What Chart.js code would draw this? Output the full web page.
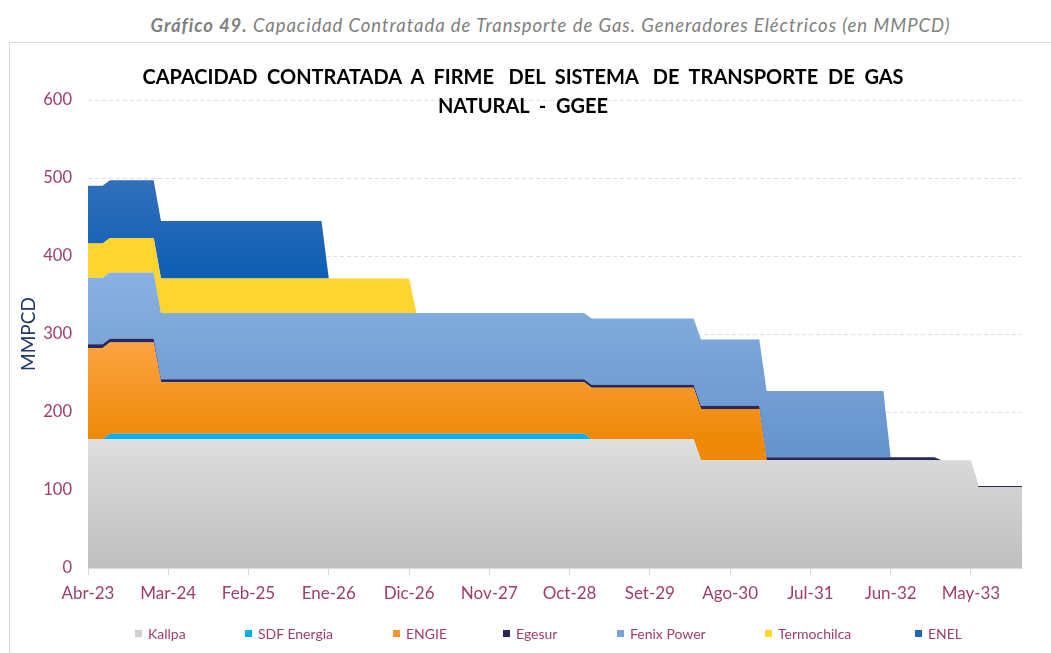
<!DOCTYPE html>
<html lang="es">
<head>
<meta charset="utf-8">
<title>Capacidad contratada a firme - GGEE</title>
<script src="https://cdn.jsdelivr.net/npm/chart.js@4.4.1/dist/chart.umd.min.js"></script>
<style>
  html, body { margin: 0; padding: 0; background: #fff; }
  #wrap { position: relative; width: 1051px; height: 653px; overflow: hidden; font-family: Lato, "Open Sans", sans-serif; }
  #caption { position: absolute; left: 0; top: 14px; width: 1101px; text-align: center; font-size: 18.5px; letter-spacing: 0.95px; font-style: italic; color: #808080; }
  #caption b { font-weight: 700; }
  #frame { position: absolute; left: 9px; top: 42px; width: 1100px; height: 700px; border: 1px solid #d9d9d9; box-sizing: border-box; }
  #chartTitle { position: absolute; left: 0; top: 62px; width: 1046px; text-align: center; font-size: 20px; font-weight: 700; line-height: 29px; color: #000; white-space: pre; }
  #plot { position: absolute; left: 0; top: 0; }
  #legend { position: absolute; left: 135px; top: 625px; display: flex; font-size: 14px; color: #9e3d6d; }
  #legend .item { display: flex; align-items: center; white-space: nowrap; }
  #legend .box { width: 7px; height: 7px; margin-right: 6px; }
</style>
</head>
<body>
<div id="wrap">
  <div id="frame"></div>
  <div id="caption"><b>Gráfico 49.</b> Capacidad Contratada de Transporte de Gas. Generadores Eléctricos (en MMPCD)</div>
  <canvas id="plot" width="1051" height="653"></canvas>
  <div id="chartTitle">CAPACIDAD  CONTRATADA  A  FIRME   DEL  SISTEMA   DE  TRANSPORTE  DE  GAS
NATURAL  -  GGEE</div>
  <div id="legend"></div>
</div>
<script>
// monthly axis, Abr-23 .. Dic-33
const monthNames = ['Ene', 'Feb', 'Mar', 'Abr', 'May', 'Jun', 'Jul', 'Ago', 'Set', 'Oct', 'Nov', 'Dic'];
const months = [];
for (let i = 0; i < 129; i++) {
  const m = (3 + i) % 12;
  const yy = 23 + Math.floor((3 + i) / 12);
  months.push(monthNames[m] + '-' + yy);
}

// capacity per company, MMPCD (one row = 12 months)
const kallpa = [
  165, 165, 165, 165, 165, 165, 165, 165, 165, 165, 165, 165,
  165, 165, 165, 165, 165, 165, 165, 165, 165, 165, 165, 165,
  165, 165, 165, 165, 165, 165, 165, 165, 165, 165, 165, 165,
  165, 165, 165, 165, 165, 165, 165, 165, 165, 165, 165, 165,
  165, 165, 165, 165, 165, 165, 165, 165, 165, 165, 165, 165,
  165, 165, 165, 165, 165, 165, 165, 165, 165, 165, 165, 165,
  165, 165, 165, 165, 165, 165, 165, 165, 165, 165, 165, 165,
  138, 138, 138, 138, 138, 138, 138, 138, 138, 138, 138, 138,
  138, 138, 138, 138, 138, 138, 138, 138, 138, 138, 138, 138,
  138, 138, 138, 138, 138, 138, 138, 138, 138, 138, 138, 138,
  138, 138, 104, 104, 104, 104, 104, 104, 104
];
const sdfEnergia = [
  0, 0, 0, 7, 7, 7, 7, 7, 7, 7, 7, 7,
  7, 7, 7, 7, 7, 7, 7, 7, 7, 7, 7, 7,
  7, 7, 7, 7, 7, 7, 7, 7, 7, 7, 7, 7,
  7, 7, 7, 7, 7, 7, 7, 7, 7, 7, 7, 7,
  7, 7, 7, 7, 7, 7, 7, 7, 7, 7, 7, 7,
  7, 7, 7, 7, 7, 7, 7, 7, 7, 0, 0, 0,
  0, 0, 0, 0, 0, 0, 0, 0, 0, 0, 0, 0,
  0, 0, 0, 0, 0, 0, 0, 0, 0, 0, 0, 0,
  0, 0, 0, 0, 0, 0, 0, 0, 0, 0, 0, 0,
  0, 0, 0, 0, 0, 0, 0, 0, 0, 0, 0, 0,
  0, 0, 0, 0, 0, 0, 0, 0, 0
];
const engie = [
  117, 117, 117, 117, 117, 117, 117, 117, 117, 117, 66, 66,
  66, 66, 66, 66, 66, 66, 66, 66, 66, 66, 66, 66,
  66, 66, 66, 66, 66, 66, 66, 66, 66, 66, 66, 66,
  66, 66, 66, 66, 66, 66, 66, 66, 66, 66, 66, 66,
  66, 66, 66, 66, 66, 66, 66, 66, 66, 66, 66, 66,
  66, 66, 66, 66, 66, 66, 66, 66, 66, 66, 66, 66,
  66, 66, 66, 66, 66, 66, 66, 66, 66, 66, 66, 66,
  66, 66, 66, 66, 66, 66, 66, 66, 66, 0, 0, 0,
  0, 0, 0, 0, 0, 0, 0, 0, 0, 0, 0, 0,
  0, 0, 0, 0, 0, 0, 0, 0, 0, 0, 0, 0,
  0, 0, 0, 0, 0, 0, 0, 0, 0
];
const egesur = [
  5, 5, 5, 5, 5, 5, 5, 5, 5, 5, 4, 4,
  4, 4, 4, 4, 4, 4, 4, 4, 4, 4, 4, 4,
  4, 4, 4, 4, 4, 4, 4, 4, 4, 4, 4, 4,
  4, 4, 4, 4, 4, 4, 4, 4, 4, 4, 4, 4,
  4, 4, 4, 4, 4, 4, 4, 4, 4, 4, 4, 4,
  4, 4, 4, 4, 4, 4, 4, 4, 4, 4, 4, 4,
  4, 4, 4, 4, 4, 4, 4, 4, 4, 4, 4, 4,
  4, 4, 4, 4, 4, 4, 4, 4, 4, 4, 4, 4,
  4, 4, 4, 4, 4, 4, 4, 4, 4, 4, 4, 4,
  4, 4, 4, 4, 4, 4, 4, 4, 4, 0, 0, 0,
  0, 0, 1, 1, 1, 1, 1, 1, 1
];
const fenixPower = [
  85, 85, 85, 85, 85, 85, 85, 85, 85, 85, 85, 85,
  85, 85, 85, 85, 85, 85, 85, 85, 85, 85, 85, 85,
  85, 85, 85, 85, 85, 85, 85, 85, 85, 85, 85, 85,
  85, 85, 85, 85, 85, 85, 85, 85, 85, 85, 85, 85,
  85, 85, 85, 85, 85, 85, 85, 85, 85, 85, 85, 85,
  85, 85, 85, 85, 85, 85, 85, 85, 85, 85, 85, 85,
  85, 85, 85, 85, 85, 85, 85, 85, 85, 85, 85, 85,
  85, 85, 85, 85, 85, 85, 85, 85, 85, 85, 85, 85,
  85, 85, 85, 85, 85, 85, 85, 85, 85, 85, 85, 85,
  85, 85, 0, 0, 0, 0, 0, 0, 0, 0, 0, 0,
  0, 0, 0, 0, 0, 0, 0, 0, 0
];
const termochilca = [
  44, 44, 44, 44, 44, 44, 44, 44, 44, 44, 44, 44,
  44, 44, 44, 44, 44, 44, 44, 44, 44, 44, 44, 44,
  44, 44, 44, 44, 44, 44, 44, 44, 44, 44, 44, 44,
  44, 44, 44, 44, 44, 44, 44, 44, 44, 0, 0, 0,
  0, 0, 0, 0, 0, 0, 0, 0, 0, 0, 0, 0,
  0, 0, 0, 0, 0, 0, 0, 0, 0, 0, 0, 0,
  0, 0, 0, 0, 0, 0, 0, 0, 0, 0, 0, 0,
  0, 0, 0, 0, 0, 0, 0, 0, 0, 0, 0, 0,
  0, 0, 0, 0, 0, 0, 0, 0, 0, 0, 0, 0,
  0, 0, 0, 0, 0, 0, 0, 0, 0, 0, 0, 0,
  0, 0, 0, 0, 0, 0, 0, 0, 0
];
const enel = [
  74, 74, 74, 74, 74, 74, 74, 74, 74, 74, 74, 74,
  74, 74, 74, 74, 74, 74, 74, 74, 74, 74, 74, 74,
  74, 74, 74, 74, 74, 74, 74, 74, 74, 0, 0, 0,
  0, 0, 0, 0, 0, 0, 0, 0, 0, 0, 0, 0,
  0, 0, 0, 0, 0, 0, 0, 0, 0, 0, 0, 0,
  0, 0, 0, 0, 0, 0, 0, 0, 0, 0, 0, 0,
  0, 0, 0, 0, 0, 0, 0, 0, 0, 0, 0, 0,
  0, 0, 0, 0, 0, 0, 0, 0, 0, 0, 0, 0,
  0, 0, 0, 0, 0, 0, 0, 0, 0, 0, 0, 0,
  0, 0, 0, 0, 0, 0, 0, 0, 0, 0, 0, 0,
  0, 0, 0, 0, 0, 0, 0, 0, 0
];

const yTicks = [0, 100, 200, 300, 400, 500, 600];

const tickColor = '#9e3d6d';

// vertical gradient between two y values (in MMPCD)
function vGrad(fromVal, toVal, c1, c2) {
  return (ctx) => {
    const chart = ctx.chart;
    const y = chart.scales && chart.scales.y;
    if (!chart.chartArea || !y) return c2;
    const g = chart.ctx.createLinearGradient(0, y.getPixelForValue(fromVal), 0, y.getPixelForValue(toVal));
    g.addColorStop(0, c1);
    g.addColorStop(1, c2);
    return g;
  };
}

function area(label, data, fill, legendColor) {
  return {
    label: label,
    data: data,
    backgroundColor: fill,
    legendColor: legendColor,
    borderWidth: 0,
    pointRadius: 0,
    pointHoverRadius: 0,
    tension: 0,
    fill: label === 'Kallpa' ? 'origin' : '-1'
  };
}

const chart = new Chart(document.getElementById('plot'), {
  type: 'line',
  data: {
    labels: months,
    datasets: [
      area('Kallpa', kallpa, vGrad(165, 0, '#dddede', '#bfbfc1'), '#cfcfd0'),
      area('SDF Energia', sdfEnergia, '#00b0f0', '#00b0f0'),
      area('ENGIE', engie, vGrad(290, 170, '#fca444', '#ef8a08'), '#f7962a'),
      area('Egesur', egesur, '#28285a', '#28285a'),
      area('Fenix Power', fenixPower, vGrad(380, 140, '#8ab1e1', '#6493cc'), '#7aa5da'),
      area('Termochilca', termochilca, '#fed42e', '#fed42e'),
      area('ENEL', enel, vGrad(500, 370, '#3170ba', '#0d5eb4'), '#1f66b7')
    ]
  },
  options: {
    responsive: false,
    animation: false,
    events: [],
    layout: { padding: { left: 0, right: 29, top: 100, bottom: 45 } },
    plugins: {
      legend: { display: false },
      tooltip: { enabled: false }
    },
    scales: {
      x: {
        offset: false,
        grid: {
          drawOnChartArea: false,
          tickLength: 7,
          tickColor: (c) => (c.index % 11 === 0 ? '#d9d9d9' : 'rgba(0,0,0,0)')
        },
        border: { color: '#d9d9d9', width: 1 },
        ticks: {
          autoSkip: false,
          maxRotation: 0,
          minRotation: 0,
          padding: 8,
          color: tickColor,
          font: { family: 'Lato', size: 17 },
          callback: function (v, i) { return i % 11 === 0 ? months[i] : ''; }
        },
        afterFit: (s) => { s.height = 40; }
      },
      y: {
        stacked: true,
        min: 0,
        max: 600,
        afterBuildTicks: (s) => { s.ticks = yTicks.map((v) => ({ value: v })); },
        grid: { color: '#dedede', lineWidth: 1, drawTicks: false },
        border: { display: false, dash: [4, 3] },
        ticks: {
          padding: 16,
          color: tickColor,
          font: { family: 'Lato', size: 16.5 }
        },
        title: {
          display: true,
          text: 'MMPCD',
          color: '#1f3864',
          font: { family: 'Lato', size: 19 },
          padding: { top: 17, bottom: 0 }
        },
        afterFit: (s) => { s.width = 88; }
      }
    }
  }
});

// legend row under the axis
const slotWidths = [110, 148, 110, 114, 148, 150, 0];
const legendEl = document.getElementById('legend');
chart.data.datasets.forEach((ds, i) => {
  const item = document.createElement('div');
  item.className = 'item';
  if (slotWidths[i]) item.style.width = slotWidths[i] + 'px';
  item.innerHTML = `<span class="box" style="background:${ds.legendColor}"></span><span>${ds.label}</span>`;
  legendEl.appendChild(item);
});
</script>
</body>
</html>
